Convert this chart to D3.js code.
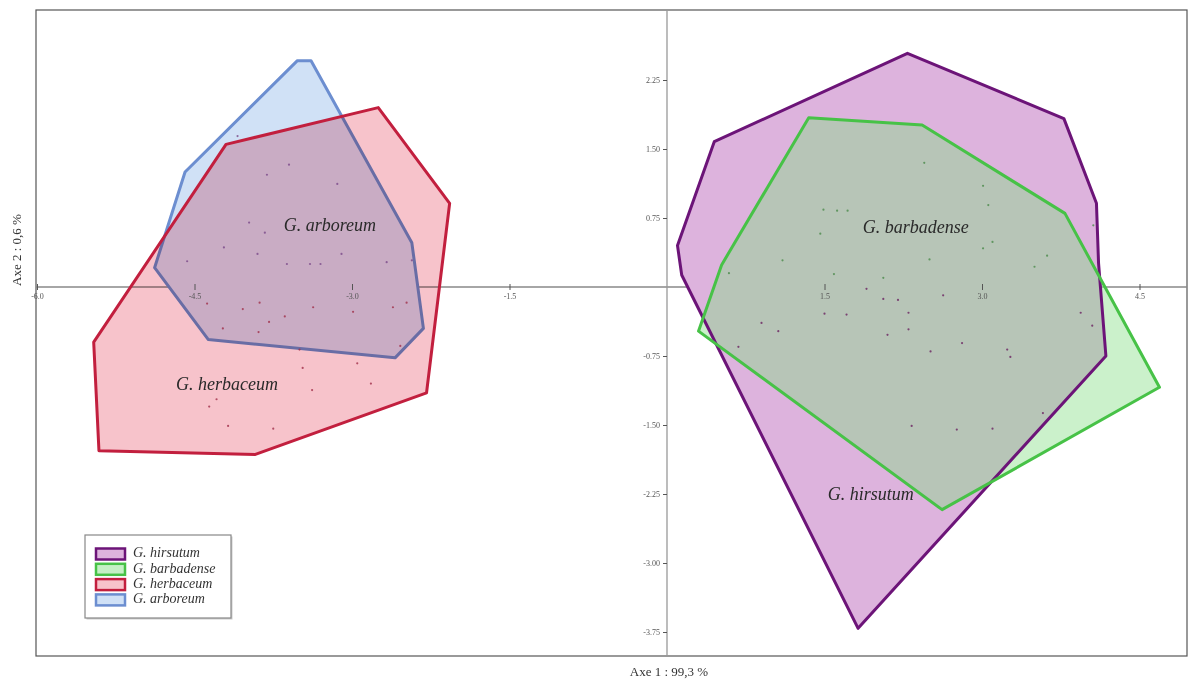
<!DOCTYPE html>
<html>
<head>
<meta charset="utf-8">
<script src="https://cdn.jsdelivr.net/npm/d3@7"></script>
<style>
  html, body { margin: 0; padding: 0; background: #fff; }
  svg { display: block; }
</style>
</head>
<body>
<svg id="chart" width="1188" height="680"></svg>
<script>
// ---------- DATA ----------
const species = ["G. hirsutum", "G. barbadense", "G. herbaceum", "G. arboreum"];

const xTicks = [-6.0, -4.5, -3.0, -1.5, 1.5, 3.0, 4.5];
const yTicks = [2.25, 1.50, 0.75, -0.75, -1.50, -2.25, -3.00, -3.75];

// convex hull vertices [axe1, axe2]
const hullArboreum = [[-3.52, 2.46], [-3.39, 2.46], [-2.43, 0.48], [-2.32, -0.45], [-2.59, -0.77], [-4.37, -0.57], [-4.88, 0.21], [-4.59, 1.25]];
const hullHerbaceum = [[-4.20, 1.55], [-2.75, 1.95], [-2.07, 0.91], [-2.29, -1.15], [-3.92, -1.82], [-5.41, -1.78], [-5.46, -0.60]];
const hullHirsutum = [[0.45, 1.58], [2.29, 2.54], [3.78, 1.83], [4.09, 0.91], [4.11, 0.26], [4.18, -0.75], [1.82, -3.71], [0.14, 0.13], [0.10, 0.45]];
const hullBarbadense = [[1.35, 1.84], [2.43, 1.76], [3.79, 0.80], [4.69, -1.09], [2.62, -2.42], [0.30, -0.48], [0.52, 0.24]];

// individual accessions (tiny points)
const ptsArboreum = [[-3.60,1.33],[-3.81,1.22],[-3.14,1.12],[-3.83,0.59],[-3.98,0.70],[-4.22,0.43],[-3.90,0.36],[-3.62,0.25],[-3.40,0.25],[-3.30,0.25],[-3.10,0.36],[-4.57,0.28],[-2.67,0.27],[-2.43,0.29],[-4.09,1.64]];
const ptsHerbaceum = [[-4.38,-0.18],[-4.04,-0.24],[-3.88,-0.17],[-3.37,-0.22],[-3.79,-0.38],[-3.89,-0.49],[-3.64,-0.32],[-4.23,-0.45],[-2.99,-0.27],[-2.61,-0.22],[-2.48,-0.17],[-2.54,-0.64],[-3.50,-0.68],[-3.47,-0.88],[-2.95,-0.83],[-3.38,-1.12],[-2.82,-1.05],[-4.29,-1.22],[-4.36,-1.30],[-4.18,-1.51],[-3.75,-1.54]];
const ptsBarbadense = [[2.45,1.35],[3.01,1.10],[3.06,0.89],[1.49,0.84],[1.62,0.83],[1.72,0.83],[1.46,0.58],[3.10,0.49],[3.01,0.42],[3.62,0.34],[3.50,0.22],[1.10,0.29],[2.50,0.30],[0.59,0.15],[1.59,0.14],[2.06,0.10],[4.06,0.67]];
const ptsHirsutum = [[1.90,-0.02],[2.06,-0.13],[2.20,-0.14],[2.63,-0.09],[1.50,-0.29],[1.71,-0.30],[2.30,-0.28],[2.30,-0.46],[2.10,-0.52],[0.90,-0.39],[1.06,-0.48],[0.68,-0.65],[2.51,-0.70],[2.81,-0.61],[3.24,-0.68],[3.27,-0.76],[3.94,-0.28],[4.05,-0.42],[3.58,-1.37],[2.33,-1.51],[2.76,-1.55],[3.10,-1.54]];

// group label anchor positions [axe1, axe2]
const labelPos = [[1.94, -2.27], [2.37, 0.63], [-4.19, -1.07], [-3.21, 0.65]];

// ---------- STYLE ----------
const stroke = {"G. hirsutum": "#6c1478", "G. barbadense": "#47c247", "G. herbaceum": "#c21f3e", "G. arboreum": "#6c8ed0"};
const fill = {"G. hirsutum": "#ddb3dd", "G. barbadense": "rgba(130,222,130,0.42)", "G. herbaceum": "#f7c3cb", "G. arboreum": "#d0e1f6"};
const legendFill = {"G. hirsutum": "#ddb3dd", "G. barbadense": "#c5f0c5", "G. herbaceum": "#f7c3cb", "G. arboreum": "#d0e1f6"};
const dotCol = {"G. hirsutum": "#6a2060", "G. barbadense": "#4a8a4a", "G. herbaceum": "#a0304a", "G. arboreum": "#7a4a8a"};

const svg = d3.select("#chart");
const frame = {l: 36, t: 10, r: 1187, b: 656};

const x = d3.scaleLinear().domain([-6, 4.5]).range([37, 1139.5]);
const y = d3.scaleLinear().domain([-3.75, 2.25]).range([632, 80]);

const hy = f => v => f(v).replace("\u2212", "-");

// frame
svg.append("rect").attr("x", frame.l).attr("y", frame.t)
  .attr("width", frame.r - frame.l).attr("height", frame.b - frame.t)
  .attr("fill", "#fff").attr("stroke", "#555").attr("stroke-width", 1.2);

// axes lines through origin
svg.append("line").attr("x1", frame.l).attr("x2", frame.r).attr("y1", y(0)).attr("y2", y(0))
  .attr("stroke", "#888").attr("stroke-width", 1.3);
svg.append("line").attr("x1", x(0)).attr("x2", x(0)).attr("y1", frame.t).attr("y2", frame.b)
  .attr("stroke", "#999").attr("stroke-width", 1.3);

const line = d3.line().x(d => x(d[0])).y(d => y(d[1])).curve(d3.curveLinearClosed);

const gH = svg.append("g");
function fillHull(name, hull, blend) {
  const f = gH.append("path").attr("d", line(hull)).attr("fill", fill[name]).attr("stroke", "none");
  if (blend) f.style("mix-blend-mode", blend);
}
function strokeHull(name, hull) {
  gH.append("path").attr("d", line(hull)).attr("fill", "none")
    .attr("stroke", stroke[name]).attr("stroke-width", 3).attr("stroke-linejoin", "round");
}
// left group
fillHull("G. arboreum", hullArboreum);
strokeHull("G. arboreum", hullArboreum);
fillHull("G. herbaceum", hullHerbaceum, "multiply");
strokeHull("G. herbaceum", hullHerbaceum);
// right group
fillHull("G. hirsutum", hullHirsutum);
fillHull("G. barbadense", hullBarbadense);
strokeHull("G. hirsutum", hullHirsutum);
strokeHull("G. barbadense", hullBarbadense);

// points
const pts = [["G. arboreum", ptsArboreum], ["G. herbaceum", ptsHerbaceum], ["G. hirsutum", ptsHirsutum], ["G. barbadense", ptsBarbadense]];
const gP = svg.append("g");
pts.forEach(([name, p]) => {
  gP.selectAll(null).data(p).enter().append("circle")
    .attr("cx", d => x(d[0])).attr("cy", d => y(d[1])).attr("r", 1.1)
    .attr("fill", dotCol[name]).attr("opacity", 0.8);
});

// axes ticks
const xAxis = d3.axisBottom(x).tickValues(xTicks).tickFormat(hy(d3.format(".1f"))).tickSize(3).tickPadding(3);
const gx = svg.append("g").attr("transform", `translate(0,${y(0)})`).call(xAxis);
gx.select(".domain").remove();
gx.selectAll(".tick line").attr("stroke", "#555").attr("y1", -3);
gx.selectAll(".tick text").attr("font-family", "Liberation Serif, serif").attr("font-size", 8).attr("fill", "#555");

const yAxis = d3.axisLeft(y).tickValues(yTicks).tickFormat(hy(d3.format(".2f"))).tickSize(4).tickPadding(3);
const gy = svg.append("g").attr("transform", `translate(${x(0)},0)`).call(yAxis);
gy.select(".domain").remove();
gy.selectAll(".tick line").attr("stroke", "#555");
gy.selectAll(".tick text").attr("font-family", "Liberation Serif, serif").attr("font-size", 8).attr("fill", "#555");

// group labels
svg.append("g").selectAll("text").data(species).enter().append("text")
  .attr("x", (d, i) => x(labelPos[i][0])).attr("y", (d, i) => y(labelPos[i][1]))
  .attr("text-anchor", "middle").attr("dominant-baseline", "middle")
  .attr("font-family", "Liberation Serif, serif").attr("font-style", "italic")
  .attr("font-size", 18).attr("fill", "#2a2a2a").text(d => d);

// axis titles
svg.append("text").attr("x", 669).attr("y", 676).attr("text-anchor", "middle")
  .attr("font-family", "Liberation Serif, serif").attr("font-size", 13).attr("fill", "#333")
  .text("Axe 1 : 99,3 %");
svg.append("text").attr("transform", "translate(21,250) rotate(-90)").attr("text-anchor", "middle")
  .attr("font-family", "Liberation Serif, serif").attr("font-size", 13).attr("fill", "#333")
  .text("Axe 2 : 0,6 %");

// legend
const lg = svg.append("g").attr("transform", "translate(85,535)");
lg.append("rect").attr("x", 1.5).attr("y", 1.5).attr("width", 146).attr("height", 83).attr("fill", "#ccc");
lg.append("rect").attr("width", 146).attr("height", 83).attr("fill", "#fff").attr("stroke", "#888").attr("stroke-width", 1.2);
const rows = lg.selectAll("g.row").data(species).enter().append("g")
  .attr("transform", (d, i) => `translate(0,${19 + i * 15.3})`);
rows.append("rect").attr("x", 11).attr("y", -5.5).attr("width", 29).attr("height", 11)
  .attr("fill", d => legendFill[d])
  .attr("stroke", d => stroke[d]).attr("stroke-width", 2.5);
rows.append("text").attr("x", 48).attr("y", 0).attr("dominant-baseline", "middle")
  .attr("font-family", "Liberation Serif, serif").attr("font-style", "italic")
  .attr("font-size", 14).attr("fill", "#333").text(d => d);
</script>
</body>
</html>
